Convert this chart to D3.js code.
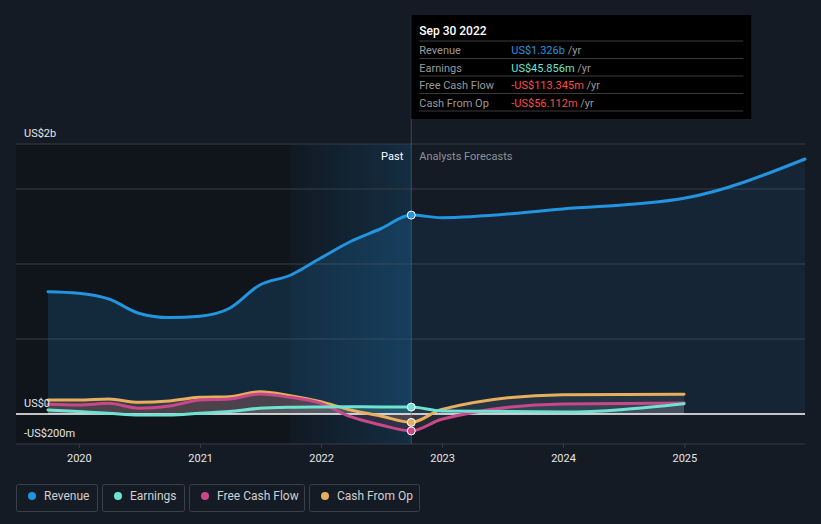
<!DOCTYPE html>
<html>
<head>
<meta charset="utf-8">
<script src="https://cdn.jsdelivr.net/npm/d3@7"></script>
<style>
  body { margin: 0; background: #151b25; }
  svg { display: block; font-family: Roboto, "Open Sans", sans-serif; }
</style>
</head>
<body>
<svg width="821" height="524"></svg>
<script>
// values in US$ billions
var pastDates = ["2019-09-30", "2019-12-31", "2020-03-31", "2020-06-30", "2020-09-30", "2020-12-31",
                 "2021-03-31", "2021-06-30", "2021-09-30", "2021-12-31", "2022-03-31", "2022-06-30", "2022-09-30"];
var revenuePast  = [0.815, 0.805, 0.767, 0.672, 0.643, 0.652, 0.705, 0.86, 0.925, 1.04, 1.15, 1.235, 1.326];
var earningsPast = [0.027, 0.016, 0.005, -0.007, -0.007, 0.005, 0.016, 0.038, 0.045, 0.047, 0.048, 0.047, 0.046];
var fcfPast      = [0.065, 0.06, 0.071, 0.038, 0.053, 0.093, 0.1, 0.133, 0.111, 0.071, -0.018, -0.073, -0.113];
var cfoPast      = [0.093, 0.093, 0.1, 0.078, 0.087, 0.111, 0.115, 0.149, 0.122, 0.082, 0.027, -0.013, -0.056];

var revenueForecastDates = ["2022-12-31", "2023-12-31", "2024-12-31", "2025-12-31"];
var revenueForecast = [1.309, 1.367, 1.438, 1.70];
var forecastDates = ["2022-12-31", "2023-12-31", "2024-12-31"];
var earningsForecast = [0.02, 0.013, 0.069];
var fcfForecast      = [-0.035, 0.067, 0.073];
var cfoForecast      = [0.031, 0.129, 0.132];

var yTicks = [0, 0.5, 1, 1.5];
var yTickLabels = [{v: 1.8, t: "US$2b"}, {v: 0, t: "US$0"}, {v: -0.2, t: "-US$200m"}];
var tooltipRows = [
  {label: "Revenue", value: "US$1.326b", color: "#2394df"},
  {label: "Earnings", value: "US$45.856m", color: "#6fe3d3"},
  {label: "Free Cash Flow", value: "-US$113.345m", color: "#ff4a4a"},
  {label: "Cash From Op", value: "-US$56.112m", color: "#ff4a4a"}
];

var parse = d3.timeParse("%Y-%m-%d");
function build(dates, vals, fdates, fvals) {
  return dates.map(function(d, i) { return {date: parse(d), v: vals[i]}; })
    .concat(fdates.map(function(d, i) { return {date: parse(d), v: fvals[i]}; }));
}

var series = [
  {name: "Revenue", color: "#2394df", data: build(pastDates, revenuePast, revenueForecastDates, revenueForecast)},
  {name: "Earnings", color: "#6fe3d3", data: build(pastDates, earningsPast, forecastDates, earningsForecast)},
  {name: "Free Cash Flow", color: "#c8498a", data: build(pastDates, fcfPast, forecastDates, fcfForecast)},
  {name: "Cash From Op", color: "#e8ae5f", data: build(pastDates, cfoPast, forecastDates, cfoForecast)}
];

var svg = d3.select("svg"),
    plotLeft = 16, plotRight = 805, plotTop = 144, plotBottom = 444;

var x = d3.scaleTime().domain([parse("2019-09-30"), parse("2025-12-31")]).range([48, 805]);
var y = d3.scaleLinear().domain([-0.2, 1.8]).range([plotBottom, plotTop]);
var now = x(parse("2022-09-30"));

var defs = svg.append("defs");
var grad = defs.append("linearGradient").attr("id", "pastband").attr("x1", 0).attr("x2", 1);
grad.append("stop").attr("offset", 0).attr("stop-color", "#2394df").attr("stop-opacity", 0.04);
grad.append("stop").attr("offset", 1).attr("stop-color", "#2394df").attr("stop-opacity", 0.2);
defs.append("clipPath").attr("id", "clipPast").append("rect")
    .attr("x", 0).attr("y", 0).attr("width", now).attr("height", 524);
defs.append("clipPath").attr("id", "clipFuture").append("rect")
    .attr("x", now).attr("y", 0).attr("width", 821 - now).attr("height", 524);

// background regions
svg.append("rect").attr("x", plotLeft).attr("y", plotTop).attr("width", now - plotLeft)
    .attr("height", plotBottom - plotTop).attr("fill", "#10141b");
svg.append("rect").attr("x", x(parse("2021-09-30"))).attr("y", plotTop)
    .attr("width", now - x(parse("2021-09-30"))).attr("height", plotBottom - plotTop)
    .attr("fill", "url(#pastband)");

// grid
svg.append("g").selectAll("line")
    .data(yTicks.concat([1.8, -0.2]))
    .enter().append("line")
    .attr("x1", plotLeft).attr("x2", plotRight)
    .attr("y1", function(d) { return y(d); }).attr("y2", function(d) { return y(d); })
    .attr("stroke", function(d) { return d == 0 ? "none" : "#363d48"; })
    .attr("stroke-width", 1);

var area = d3.area().curve(d3.curveMonotoneX)
    .x(function(d) { return x(d.date); })
    .y0(y(0))
    .y1(function(d) { return y(d.v); });
var line = d3.line().curve(d3.curveMonotoneX)
    .x(function(d) { return x(d.date); })
    .y(function(d) { return y(d.v); });

// area fills: coloured in the past, grey in the forecast
series.forEach(function(s, i) {
  svg.append("path").attr("d", area(s.data))
      .attr("fill", s.color).attr("fill-opacity", i == 0 ? 0.17 : 0.16)
      .attr("clip-path", "url(#clipPast)");
  svg.append("path").attr("d", area(s.data))
      .attr("fill", i == 0 ? s.color : "#ffffff").attr("fill-opacity", i == 0 ? 0.09 : 0.07)
      .attr("clip-path", "url(#clipFuture)");
});

// zero line
svg.append("line").attr("x1", plotLeft).attr("x2", plotRight).attr("y1", y(0)).attr("y2", y(0))
    .attr("stroke", "#ffffff").attr("stroke-width", 1.5);

series.slice().reverse().forEach(function(s) {
  svg.append("path").attr("d", line(s.data))
      .attr("fill", "none").attr("stroke", s.color).attr("stroke-width", 3)
      .attr("stroke-linecap", "round");
});

// now marker
svg.append("line").attr("x1", now).attr("x2", now).attr("y1", 15).attr("y2", plotBottom)
    .attr("stroke", "#4f6d8a").attr("stroke-opacity", 0.6);

series.forEach(function(s) {
  var p = s.data[pastDates.length - 1];
  svg.append("circle").attr("cx", x(p.date)).attr("cy", y(p.v)).attr("r", 4)
      .attr("fill", s.color).attr("stroke", "#ffffff").attr("stroke-width", 1);
});

svg.append("text").attr("x", now - 8).attr("y", 160).attr("text-anchor", "end")
    .attr("fill", "#ffffff").attr("font-size", 11).text("Past");
svg.append("text").attr("x", now + 8).attr("y", 160)
    .attr("fill", "#8b9098").attr("font-size", 11).text("Analysts Forecasts");

// y labels
svg.append("g").selectAll("text")
    .data(yTickLabels)
    .enter().append("text")
    .attr("x", 24).attr("y", function(d) { return y(d.v) - 7; })
    .attr("fill", "#e6e6e6").attr("font-size", 11)
    .text(function(d) { return d.t; });

// x axis
var xAxis = d3.axisBottom(x).ticks(d3.timeYear.every(1)).tickSize(4).tickPadding(6)
    .tickFormat(d3.timeFormat("%Y"));
var gx = svg.append("g").attr("transform", "translate(0," + plotBottom + ")").call(xAxis);
gx.select(".domain").remove();
gx.selectAll("line").attr("stroke", "#363d48");
gx.selectAll("text").attr("fill", "#e6e6e6").attr("font-size", 11).attr("font-family", "Roboto, sans-serif");

// tooltip
var tip = svg.append("g").attr("transform", "translate(" + now + ",15)");
tip.append("rect").attr("width", 340).attr("height", 104).attr("fill", "#000000");
tip.append("text").attr("x", 8).attr("y", 20).attr("fill", "#ffffff").attr("font-size", 12)
    .attr("font-weight", 500).text("Sep 30 2022");
var rows = tip.selectAll(".row").data(tooltipRows).enter().append("g")
    .attr("transform", function(d, i) { return "translate(0," + (26 + i * 17.5) + ")"; });
rows.append("line").attr("x1", 8).attr("x2", 332).attr("stroke", "#3a3a3a");
rows.append("text").attr("x", 8).attr("y", 13).attr("fill", "#9a9a9a").attr("font-size", 11)
    .text(function(d) { return d.label; });
rows.append("text").attr("x", 100).attr("y", 13).attr("font-size", 11)
    .each(function(d) {
      var t = d3.select(this);
      t.append("tspan").attr("fill", d.color).text(d.value);
      t.append("tspan").attr("fill", "#9a9a9a").text(" /yr");
    });
tip.append("line").attr("x1", 8).attr("x2", 332).attr("y1", 96).attr("y2", 96).attr("stroke", "#3a3a3a");

// legend
var legendX = [16, 102, 189, 309], legendW = [81, 82, 115, 110];
var lg = svg.append("g").selectAll("g").data(series).enter().append("g")
    .attr("transform", function(d, i) { return "translate(" + legendX[i] + ",484)"; });
lg.append("rect").attr("x", 0.5).attr("y", 0.5).attr("rx", 2)
    .attr("width", function(d, i) { return legendW[i]; }).attr("height", 27)
    .attr("fill", "none").attr("stroke", "#3a404a");
lg.append("circle").attr("cx", 16).attr("cy", 12).attr("r", 4).attr("fill", function(d) { return d.color; });
lg.append("text").attr("x", 28).attr("y", 16).attr("fill", "#d0d0d0").attr("font-size", 12)
    .text(function(d) { return d.name; });
</script>
</body>
</html>
